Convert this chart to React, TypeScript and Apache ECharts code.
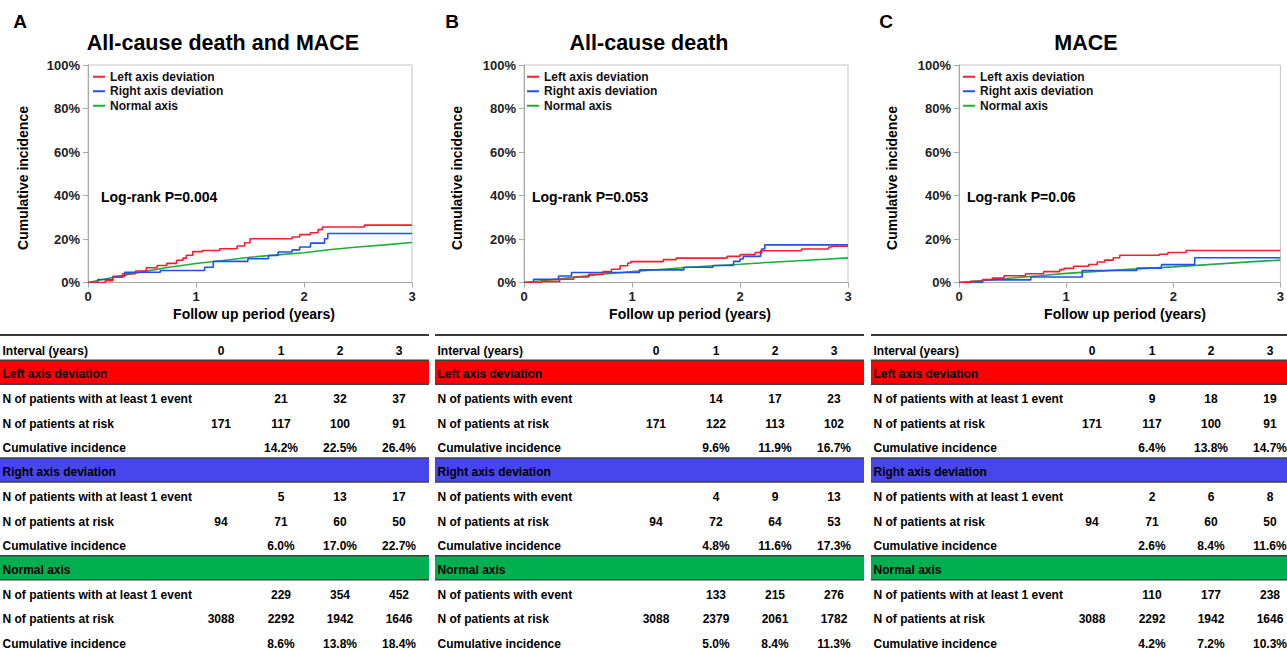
import React, { useEffect, useRef } from "react";
import * as echarts from "echarts";

// ---------------- DATA ----------------
const panelLetters = ["A", "B", "C"];
const panelTitles = ["All-cause death and MACE", "All-cause death", "MACE"];
const logRankTexts = ["Log-rank P=0.004", "Log-rank P=0.053", "Log-rank P=0.06"];
const groupNames = ["Left axis deviation", "Right axis deviation", "Normal axis"];
const xAxisTitle = "Follow up period (years)";
const yAxisTitle = "Cumulative incidence";
const intervalYears = ["0", "1", "2", "3"];
const intervalLabel = "Interval (years)";
const eventRowLabels = [
  "N of patients with at least 1 event",
  "N of patients with event",
  "N of patients with at least 1 event",
];
const atRiskLabel = "N of patients at risk";
const cumLabel = "Cumulative incidence";

// Kaplan–Meier style curves: [years, cumulative incidence %]
const redA = [[0, 0], [0.16, 0.8], [0.23, 2.4], [0.32, 4.0], [0.44, 5.3], [0.54, 6.8], [0.64, 7.8], [0.73, 8.8], [0.82, 10.2], [0.88, 11.2], [0.91, 12.5], [0.97, 14.2], [1.06, 14.7], [1.22, 15.5], [1.38, 16.8], [1.45, 18.3], [1.5, 20.1], [1.89, 20.9], [1.96, 22.0], [2.06, 22.9], [2.13, 24.3], [2.17, 25.5], [2.56, 26.4], [3, 26.4]];
const blueA = [[0, 0], [0.09, 1.4], [0.23, 2.8], [0.34, 4.7], [0.67, 5.5], [1.08, 7.0], [1.16, 9.7], [1.48, 10.9], [1.67, 12.4], [1.76, 14.0], [1.89, 15.0], [1.96, 16.3], [2.06, 18.1], [2.19, 20.1], [2.22, 22.5], [3, 22.5]];
const greenA = [[0, 0], [0.25, 2.5], [0.5, 4.9], [0.75, 7.0], [1, 8.7], [1.25, 10.1], [1.5, 11.6], [1.75, 12.7], [2, 13.7], [2.25, 15.2], [2.5, 16.3], [2.75, 17.3], [3, 18.4]];

const redB = [[0, 0], [0.16, 0.5], [0.33, 1.5], [0.46, 2.5], [0.6, 3.8], [0.73, 5.0], [0.81, 6.1], [0.89, 7.7], [0.96, 9.0], [0.99, 9.6], [1.29, 10.5], [1.41, 11.2], [1.88, 12.0], [2.0, 12.8], [2.14, 13.8], [2.19, 14.6], [2.57, 15.4], [2.82, 16.3], [2.85, 16.7], [3, 16.7]];
const blueB = [[0, 0], [0.09, 1.5], [0.32, 3.0], [0.44, 4.6], [1.07, 5.8], [1.48, 7.0], [1.75, 7.8], [1.94, 9.7], [2.0, 10.8], [2.03, 12.0], [2.19, 13.5], [2.2, 15.4], [2.23, 17.3], [3, 17.3]];
const greenB = [[0, 0], [0.25, 1.3], [0.5, 2.6], [0.75, 3.9], [1, 5.0], [1.25, 6.0], [1.5, 6.9], [1.75, 7.7], [2, 8.4], [2.25, 9.2], [2.5, 9.9], [2.75, 10.6], [3, 11.3]];

const redC = [[0, 0], [0.11, 0.5], [0.22, 1.3], [0.31, 2.0], [0.42, 3.1], [0.62, 4.0], [0.79, 5.0], [0.94, 5.9], [0.98, 6.5], [1.07, 7.5], [1.21, 8.3], [1.29, 9.4], [1.36, 10.3], [1.44, 11.4], [1.5, 12.5], [1.87, 13.0], [1.95, 13.8], [2.12, 14.7], [3, 14.7]];
const blueC = [[0, 0], [0.22, 1.2], [0.67, 2.5], [1.15, 5.5], [1.66, 6.6], [1.89, 8.2], [2.2, 11.4], [3, 11.4]];
const greenC = [[0, 0], [0.25, 1.0], [0.5, 2.1], [0.75, 3.1], [1, 4.2], [1.25, 5.0], [1.5, 5.8], [1.75, 6.5], [2, 7.2], [2.25, 8.0], [2.5, 8.8], [2.75, 9.6], [3, 10.3]];

// Risk tables (null = blank cell)
const eventsA = [[null, 21, 32, 37], [null, 5, 13, 17], [null, 229, 354, 452]];
const atRiskA = [[171, 117, 100, 91], [94, 71, 60, 50], [3088, 2292, 1942, 1646]];
const cumA = [[null, 14.2, 22.5, 26.4], [null, 6.0, 17.0, 22.7], [null, 8.6, 13.8, 18.4]];

const eventsB = [[null, 14, 17, 23], [null, 4, 9, 13], [null, 133, 215, 276]];
const atRiskB = [[171, 122, 113, 102], [94, 72, 64, 53], [3088, 2379, 2061, 1782]];
const cumB = [[null, 9.6, 11.9, 16.7], [null, 4.8, 11.6, 17.3], [null, 5.0, 8.4, 11.3]];

const eventsC = [[null, 9, 18, 19], [null, 2, 6, 8], [null, 110, 177, 238]];
const atRiskC = [[171, 117, 100, 91], [94, 71, 60, 50], [3088, 2292, 1942, 1646]];
const cumC = [[null, 6.4, 13.8, 14.7], [null, 2.6, 8.4, 11.6], [null, 4.2, 7.2, 10.3]];

// ---------------- STYLE / LAYOUT ----------------
const FONT = 'Arial, "Liberation Sans", sans-serif';
const lineColors = ["#f0202f", "#2050f0", "#1fae3a"];
const barColors = ["#ff0000", "#4646ec", "#00b050"];

const plotLeft = [88, 524, 959];
const plotTop = 65;
const plotW = 324;
const plotH = 217.5;
const letterX = [20, 452, 886];
const titleX = [223, 649, 1086];
const logRankX = [101, 532, 967];
const yTitleX = [23.3, 457.3, 891.7];
const legendLeft = [93, 527, 963];
const tableLeft = [0, 435, 871];
const tableRight = [429, 864, 1287];
const colOffsets = [221, 281, 340, 399];

export default function App() {
  const ref = useRef<HTMLDivElement>(null);

  useEffect(() => {
    if (!ref.current) return;
    const chart = echarts.init(ref.current, undefined, { renderer: "svg" });

    const curves = [
      [redA, blueA, greenA],
      [redB, blueB, greenB],
      [redC, blueC, greenC],
    ];
    const tables = [
      { events: eventsA, atRisk: atRiskA, cum: cumA },
      { events: eventsB, atRisk: atRiskB, cum: cumB },
      { events: eventsC, atRisk: atRiskC, cum: cumC },
    ];

    const grids: any[] = [];
    const xAxes: any[] = [];
    const yAxes: any[] = [];
    const series: any[] = [];
    const legends: any[] = [];
    const graphics: any[] = [];

    const txt = (text: string, x: number, y: number, size: number, align = "left", extra: any = {}) => ({
      type: "text",
      x,
      y,
      silent: true,
      ...extra,
      style: {
        text,
        fontSize: size,
        fontWeight: "bold",
        fontFamily: FONT,
        fill: "#000",
        align,
        verticalAlign: "middle",
      },
    });

    const fmtCell = (v: number | null, pct: boolean) =>
      v === null ? "" : pct ? v.toFixed(1) + "%" : String(v);

    for (let p = 0; p < 3; p++) {
      grids.push({
        left: plotLeft[p],
        top: plotTop,
        width: plotW,
        height: plotH,
        show: true,
        borderColor: "#c4c4c4",
        borderWidth: 1,
        backgroundColor: "transparent",
      });
      xAxes.push({
        type: "value",
        gridIndex: p,
        min: 0,
        max: 3,
        interval: 1,
        axisLine: { show: true, onZero: false, lineStyle: { color: "#a8a8a8", width: 1 } },
        axisTick: { show: true, length: 5, lineStyle: { color: "#a8a8a8" } },
        axisLabel: { fontSize: 13, fontWeight: "bold", color: "#222", fontFamily: FONT, margin: 7 },
        splitLine: { show: false },
      });
      yAxes.push({
        type: "value",
        gridIndex: p,
        min: 0,
        max: 100,
        interval: 20,
        axisLine: { show: true, onZero: false, lineStyle: { color: "#a8a8a8", width: 1 } },
        axisTick: { show: true, length: 5, lineStyle: { color: "#a8a8a8" } },
        axisLabel: {
          fontSize: 13,
          fontWeight: "bold",
          color: "#222",
          fontFamily: FONT,
          margin: 8,
          formatter: "{value}%",
        },
        splitLine: { show: false },
      });
      for (let g = 0; g < 3; g++) {
        series.push({
          type: "line",
          name: groupNames[g],
          xAxisIndex: p,
          yAxisIndex: p,
          data: curves[p][g],
          step: g < 2 ? "end" : false,
          showSymbol: false,
          symbol: "none",
          z: 3 - g,
          lineStyle: { color: lineColors[g], width: 1.6 },
          itemStyle: { color: lineColors[g] },
        });
      }
      legends.push({
        orient: "vertical",
        left: legendLeft[p],
        top: 70.5,
        itemWidth: 12,
        itemHeight: 2,
        itemGap: 2,
        icon: "rect",
        selectedMode: false,
        padding: 0,
        data: groupNames,
        textStyle: { fontSize: 12, fontWeight: "bold", color: "#111", fontFamily: FONT, lineHeight: 12.5 },
      });

      // Titles & annotations
      graphics.push(txt(panelLetters[p], letterX[p], 21.5, 19, "center"));
      graphics.push(txt(panelTitles[p], titleX[p], 43, 21.5, "center"));
      graphics.push(txt(logRankTexts[p], logRankX[p], 196.5, 14, "left"));
      graphics.push(txt(xAxisTitle, plotLeft[p] + plotW / 2 + 4, 314, 14, "center"));
      graphics.push(txt(yAxisTitle, yTitleX[p], 178, 14, "center", { rotation: Math.PI / 2 }));

      // Risk table
      const L = tableLeft[p];
      const R = tableRight[p];
      const pitch = 24.45;
      const row0 = 350.5;
      graphics.push({
        type: "line",
        silent: true,
        shape: { x1: L, y1: 335, x2: R, y2: 335 },
        style: { stroke: "#3a3a3a", lineWidth: 2 },
      });
      graphics.push(txt(intervalLabel, L + 2.5, row0, 12));
      intervalYears.forEach((t, c) => graphics.push(txt(t, L + colOffsets[c], row0, 12, "center")));

      const tb = tables[p];
      for (let g = 0; g < 3; g++) {
        const barRow = 1 + g * 4;
        const bc = row0 + barRow * pitch;
        const top = bc - 14.7;
        const h = 24;
        graphics.push({
          type: "rect",
          silent: true,
          shape: { x: L, y: top, width: R - L, height: h },
          style: { fill: barColors[g] },
        });
        graphics.push({
          type: "line",
          silent: true,
          shape: { x1: L, y1: top, x2: R, y2: top },
          style: { stroke: "#404040", lineWidth: 1.5 },
        });
        graphics.push({
          type: "line",
          silent: true,
          shape: { x1: L, y1: top + h, x2: R, y2: top + h },
          style: { stroke: "#404040", lineWidth: 1.5 },
        });
        graphics.push(txt(groupNames[g], L + 2.5, bc - 0.5, 12));

        const rows = [
          { label: eventRowLabels[p], vals: tb.events[g], pct: false },
          { label: atRiskLabel, vals: tb.atRisk[g], pct: false },
          { label: cumLabel, vals: tb.cum[g], pct: true },
        ];
        rows.forEach((r, k) => {
          const y = row0 + (barRow + 1 + k) * pitch;
          graphics.push(txt(r.label, L + 2.5, y, 12));
          r.vals.forEach((v: number | null, c: number) => {
            const s = fmtCell(v, r.pct);
            if (s) graphics.push(txt(s, L + colOffsets[c], y, 12, "center"));
          });
        });
      }
    }

    chart.setOption({
      animation: false,
      backgroundColor: "#ffffff",
      grid: grids,
      xAxis: xAxes,
      yAxis: yAxes,
      legend: legends,
      series,
      graphic: { elements: graphics },
    });

    return () => chart.dispose();
  }, []);

  return (
    <div
      ref={ref}
      style={{ position: "absolute", left: 0, top: 0, width: 1287, height: 651 }}
    />
  );
}
